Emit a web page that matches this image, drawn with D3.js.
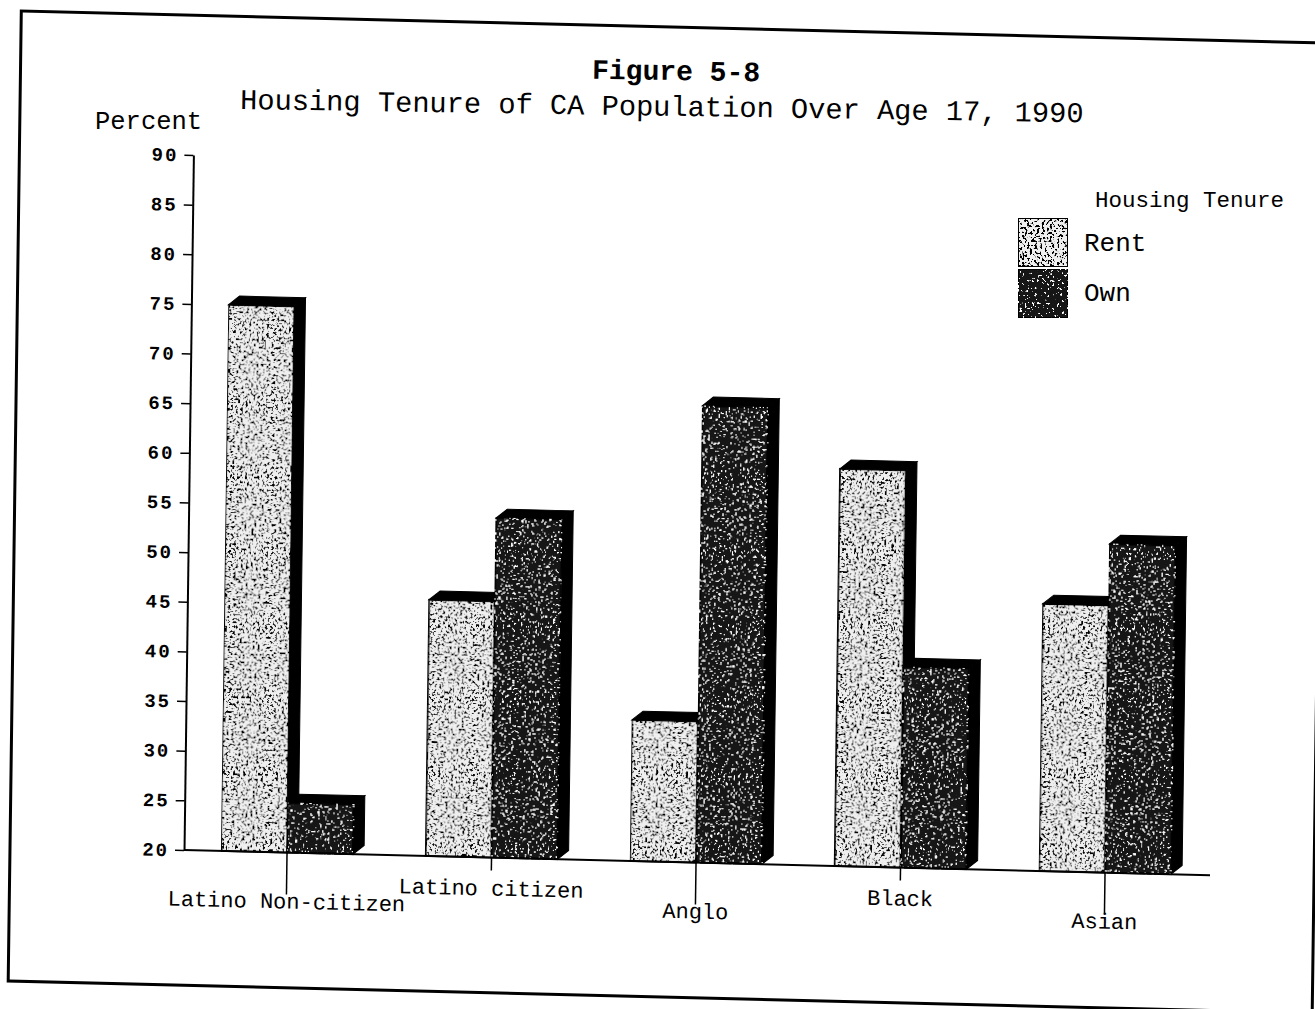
<!DOCTYPE html>
<html>
<head>
<meta charset="utf-8">
<script src="https://cdn.jsdelivr.net/npm/d3@7"></script>
<style>
  body { margin: 0; background: #fff; }
  text { font-family: 'Liberation Mono', 'DejaVu Sans Mono', monospace; fill: #000; }
</style>
</head>
<body>
<script>
const svgW = 1315;
const svgH = 1009;

// data
const categories = ['Latino Non-citizen', 'Latino citizen', 'Anglo', 'Black', 'Asian'];
const series = ['Rent', 'Own'];
const rentValues = [75.0, 45.8, 34.2, 60.0, 46.9];
const ownValues = [25.0, 54.2, 66.0, 40.2, 53.1];
const yTickValues = [20, 25, 30, 35, 40, 45, 50, 55, 60, 65, 70, 75, 80, 85, 90];

const svg = d3.select('body')
  .append('svg')
  .attr('width', svgW)
  .attr('height', svgH);

const defs = svg.append('defs');

// speckled fill like the photocopied original
const speckle = (id, rgb, thr, seed) => {
  const f = defs.append('filter').attr('id', id)
    .attr('x', 0).attr('y', 0).attr('width', 1).attr('height', 1);
  f.append('feTurbulence').attr('type', 'fractalNoise')
    .attr('baseFrequency', 0.4).attr('numOctaves', 2)
    .attr('seed', seed).attr('result', 'n');
  f.append('feColorMatrix').attr('in', 'n').attr('type', 'matrix')
    .attr('values', `0 0 0 0 ${rgb} 0 0 0 0 ${rgb} 0 0 0 0 ${rgb} 20 0 0 0 ${-20 * thr}`)
    .attr('result', 'd');
  f.append('feComposite').attr('in', 'd').attr('in2', 'SourceAlpha')
    .attr('operator', 'in').attr('result', 'dc');
  const m = f.append('feMerge');
  m.append('feMergeNode').attr('in', 'SourceGraphic');
  m.append('feMergeNode').attr('in', 'dc');
};
speckle('spRent', 0, 0.54, 4);
speckle('spOwn', 1, 0.64, 9);

const fills = { Rent: '#efefef', Own: '#161616' };
const filters = { Rent: 'url(#spRent)', Own: 'url(#spOwn)' };

// scanned page is slightly skewed
const page = svg.append('g')
  .attr('transform', 'matrix(1,0.0245,-0.0135,1,11.5,-4.5)');

page.append('rect')
  .attr('x', 10).attr('y', 15.3)
  .attr('width', 1304).attr('height', 970)
  .attr('fill', 'none').attr('stroke', '#000').attr('stroke-width', 3);

const x = d3.scaleBand()
  .domain(categories)
  .range([184.75, 1207.25])
  .paddingInner(0.3545)
  .paddingOuter(0.3545 / 2);

const xs = d3.scaleBand().domain(series).range([0, x.bandwidth()]);

const y = d3.scaleLinear().domain([20, 90]).range([850, 155]);

// y axis
const yAxis = page.append('g')
  .attr('transform', 'translate(184,0)')
  .call(d3.axisLeft(y).tickValues(yTickValues).tickSize(9).tickPadding(6).tickSizeOuter(0));
yAxis.select('.domain').attr('stroke', '#000').attr('stroke-width', 2);
yAxis.selectAll('.tick line').attr('stroke', '#000').attr('stroke-width', 1.5);
yAxis.selectAll('.tick text')
  .style('font-family', "'Liberation Mono', monospace")
  .style('font-size', '19px')
  .style('font-weight', 'bold')
  .style('letter-spacing', '2px')
  .attr('fill', '#000');

// bars
const dx = 11, dy = -9;
const rows = categories.map((c, i) => ({ c, Rent: rentValues[i], Own: ownValues[i] }));
const base = y(20);

rows.forEach(r => {
  series.forEach(s => {
    const x0 = x(r.c) + xs(s);
    const w = xs.bandwidth();
    const yv = y(r[s]);
    const g = page.append('g');
    g.append('polygon')
      .attr('points', [[x0, yv], [x0 + dx, yv + dy], [x0 + w + dx, yv + dy], [x0 + w, yv]].join(' '))
      .attr('fill', '#000').attr('stroke', '#000');
    g.append('polygon')
      .attr('points', [[x0 + w, yv], [x0 + w + dx, yv + dy], [x0 + w + dx, base + dy], [x0 + w, base]].join(' '))
      .attr('fill', '#000').attr('stroke', '#000');
    g.append('rect')
      .attr('x', x0).attr('y', yv)
      .attr('width', w).attr('height', base - yv)
      .attr('fill', fills[s])
      .attr('stroke', '#000').attr('stroke-width', 2)
      .attr('filter', filters[s]);
  });
});

// x axis baseline, staggered ticks and labels
page.append('line')
  .attr('x1', 184).attr('x2', 1210)
  .attr('y1', base).attr('y2', base)
  .attr('stroke', '#000').attr('stroke-width', 2);

const xt = page.append('g').selectAll('g')
  .data(categories)
  .enter()
  .append('g')
  .attr('transform', d => `translate(${x(d) + x.bandwidth() / 2},${base})`);

xt.append('line')
  .attr('y2', (d, i) => (i % 2 === 0 ? 42 : 13))
  .attr('stroke', '#000').attr('stroke-width', 1.5);

xt.append('text')
  .attr('y', (d, i) => (i % 2 === 0 ? 56 : 38))
  .attr('text-anchor', 'middle')
  .style('font-size', '22px')
  .text(d => d);

// titles
svg.append('text')
  .attr('x', 676).attr('y', 80)
  .attr('text-anchor', 'middle')
  .attr('transform', 'rotate(0.9,676,80)')
  .style('font-size', '28px').style('font-weight', 'bold')
  .text('Figure 5-8');

svg.append('text')
  .attr('x', 240).attr('y', 109)
  .attr('transform', 'rotate(0.9,240,109)')
  .style('font-size', '28.7px')
  .text('Housing Tenure of CA Population Over Age 17, 1990');

svg.append('text')
  .attr('x', 95).attr('y', 129)
  .style('font-size', '25.5px')
  .text('Percent');

// legend
const legend = svg.append('g');
legend.append('text')
  .attr('x', 1095).attr('y', 207)
  .style('font-size', '22.5px')
  .text('Housing Tenure');

const legendRows = [
  { s: 'Rent', y: 218, ty: 251 },
  { s: 'Own', y: 269, ty: 301 },
];
legendRows.forEach(d => {
  legend.append('rect')
    .attr('x', 1018).attr('y', d.y)
    .attr('width', 50).attr('height', 49)
    .attr('fill', fills[d.s])
    .attr('stroke', '#000').attr('stroke-width', 2)
    .attr('filter', filters[d.s]);
  legend.append('text')
    .attr('x', 1084).attr('y', d.ty)
    .style('font-size', '26px')
    .text(d.s);
});
</script>
</body>
</html>
